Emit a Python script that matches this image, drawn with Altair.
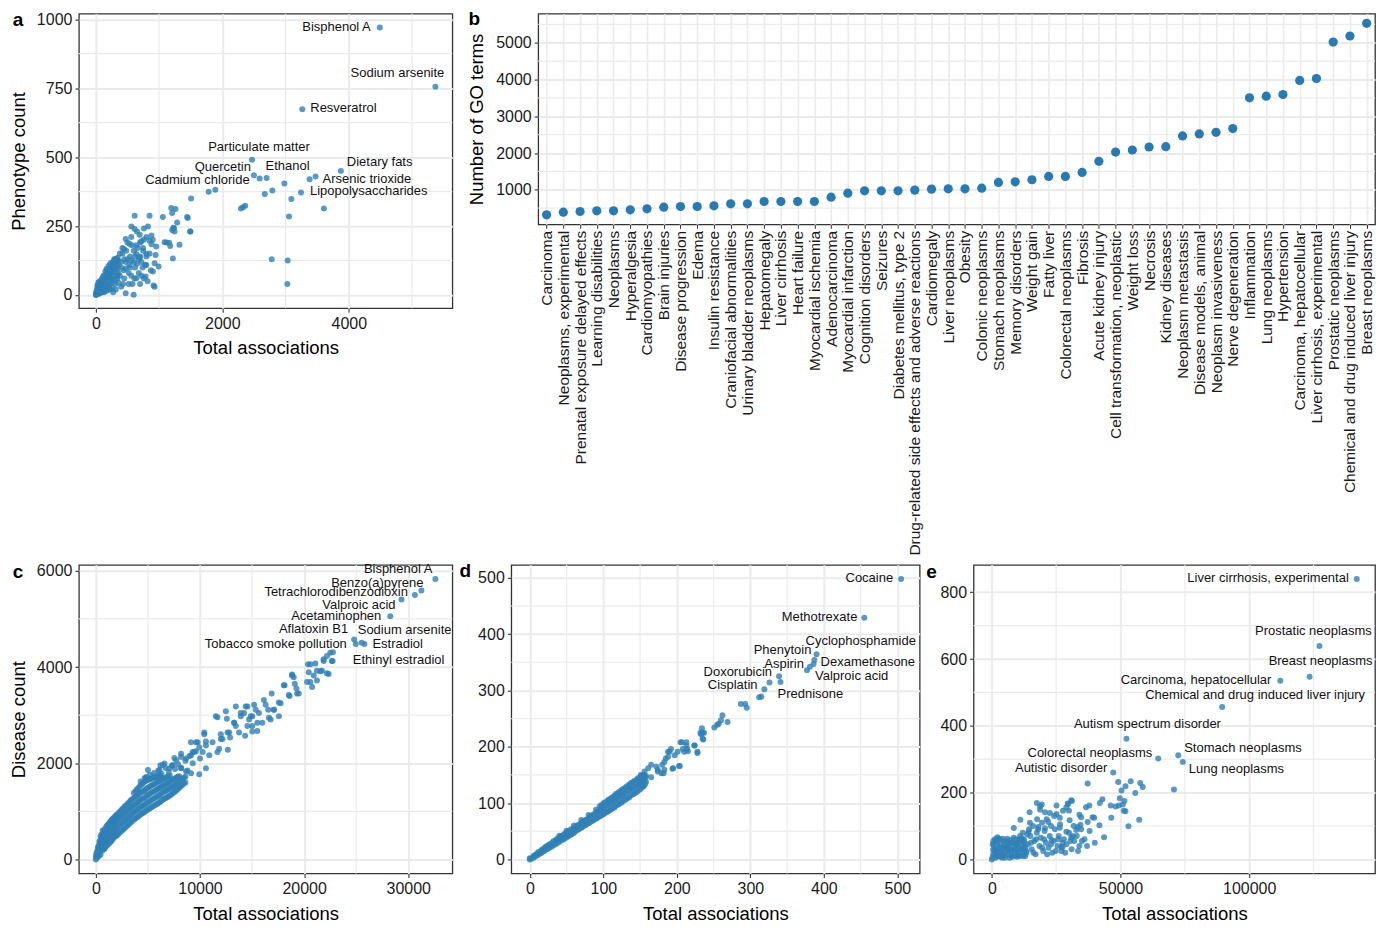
import altair as alt
import pandas as pd

FONT = "Liberation Sans"
PT = "#2f7fb5"
GRID = "#ebebeb"

# ---------------- panel a : chemicals, phenotypes ----------------
a_names = ["Bisphenol A", "Sodium arsenite", "Resveratrol", "Particulate matter", "Quercetin",
           "Ethanol", "Dietary fats", "Arsenic trioxide", "Lipopolysaccharides", "Cadmium chloride"]
a_lab_x = [4490, 5370, 3265, 2470, 2500, 2700, 3875, 3475, 3245, 1785]
a_lab_y = [970, 755, 673, 490, 434, 424, 450, 430, 372, 374]
a_pts = [
    (2590, 422), (3380, 420), (1890, 382), (1507, 350), (2982, 404), (2672, 366), (2792, 379),
    (3092, 348), (3606, 314), (3055, 285), (2782, 130), (3034, 125), (3029, 40), (2294, 314),
    (2362, 324), (2330, 318), (1192, 315), (1260, 312), (1207, 297), (1444, 283), (1454, 279),
    (1491, 230), (1207, 236), (1228, 244), (1286, 263), (1060, 283), (1323, 182), (1160, 189),
    (1119, 190), (1176, 178), (1218, 132), (992, 103), (913, 34), (903, 85), (798, 109), (787, 67),
    (945, 145), (614, 287), (850, 287), (562, 248), (614, 239), (761, 241), (824, 248), (880, 216),
    (850, 197), (880, 184), (693, 218), (719, 195), (745, 170), (472, 203), (535, 185), (446, 167),
    (640, 149), (562, 125), (651, 113), (472, 6), (598, 1), (640, 61), (955, 176), (929, 115),
    (420, 150), (394, 120), (472, 96), (693, 137), (798, 149), (1234, 242), (1244, 230),
    (1496, 230), (1087, 191), (929, 30),
    (380, 150), (400, 100), (420, 170), (450, 60), (470, 120), (500, 190), (520, 80), (540, 140),
    (560, 210), (580, 40), (600, 160), (620, 100), (650, 230), (680, 130), (700, 190), (720, 70),
    (750, 160), (780, 110), (800, 210), (820, 50), (850, 150), (870, 90), (900, 200), (380, 70),
    (430, 40), (480, 160), (530, 110), (570, 180), (610, 60), (660, 170), (700, 140), (740, 100),
    (760, 200), (800, 140), (400, 30), (440, 90), (500, 130), (520, 40), (600, 120), (640, 180),
    (680, 80), (720, 120), (760, 60), (450, 130), (560, 70), (620, 140), (700, 40), (540, 100),
    (0, 0), (5, 3), (10, 8), (20, 5), (30, 15), (40, 10), (50, 25), (60, 5), (70, 35), (80, 20),
    (90, 45), (100, 10), (100, 60), (110, 30), (120, 70), (130, 50), (140, 15), (150, 85), (160, 40),
    (170, 95), (180, 60), (190, 20), (200, 105), (210, 75), (220, 40), (230, 115), (240, 90),
    (250, 55), (260, 25), (270, 120), (280, 100), (290, 70), (300, 130), (310, 40), (320, 110),
    (330, 85), (340, 60), (350, 125), (345, 135), (60, 50), (30, 30), (15, 20),
    (5, 10), (12, 2), (18, 12), (25, 8), (35, 22), (45, 5), (45, 30), (55, 15), (65, 28), (75, 10),
    (75, 45), (85, 30), (95, 55), (105, 20), (115, 45), (125, 65), (135, 35), (145, 60), (155, 25),
    (165, 75), (175, 50), (185, 90), (195, 35), (205, 65), (215, 95), (225, 20), (235, 70),
    (245, 105), (255, 45), (265, 85), (275, 10), (285, 115), (295, 55), (305, 95), (315, 20),
    (325, 125), (335, 70), (345, 100), (355, 45), (360, 110), (355, 80), (330, 130), (310, 120),
    (290, 130), (270, 105), (250, 85), (230, 60), (210, 30), (190, 75), (170, 15), (150, 40),
    (130, 10), (110, 55), (90, 15), (70, 10), (50, 40), (40, 45), (25, 35),
]

# ---------------- panel b : GO terms per disease ----------------
b_cats = ["Carcinoma", "Neoplasms, experimental", "Prenatal exposure delayed effects",
          "Learning disabilities", "Neoplasms", "Hyperalgesia", "Cardiomyopathies", "Brain injuries",
          "Disease progression", "Edema", "Insulin resistance", "Craniofacial abnormalities",
          "Urinary bladder neoplasms", "Hepatomegaly", "Liver cirrhosis", "Heart failure",
          "Myocardial ischemia", "Adenocarcinoma", "Myocardial infarction", "Cognition disorders",
          "Seizures", "Diabetes mellitus, type 2", "Drug-related side effects and adverse reactions",
          "Cardiomegaly", "Liver neoplasms", "Obesity", "Colonic neoplasms", "Stomach neoplasms",
          "Memory disorders", "Weight gain", "Fatty liver", "Colorectal neoplasms", "Fibrosis",
          "Acute kidney injury", "Cell transformation, neoplastic", "Weight loss", "Necrosis",
          "Kidney diseases", "Neoplasm metastasis", "Disease models, animal", "Neoplasm invasiveness",
          "Nerve degeneration", "Inflammation", "Lung neoplasms", "Hypertension",
          "Carcinoma, hepatocellular", "Liver cirrhosis, experimental", "Prostatic neoplasms",
          "Chemical and drug induced liver injury", "Breast neoplasms"]
b_vals = [318, 391, 409, 427, 427, 455, 482, 527, 545, 545, 564, 618, 618, 682, 682, 682, 682,
          800, 909, 973, 973, 973, 991, 1018, 1027, 1027, 1045, 1200, 1218, 1273, 1364, 1364, 1473,
          1773, 2027, 2082, 2164, 2173, 2464, 2518, 2564, 2664, 3500, 3545, 3591, 3973, 4027, 5018,
          5182, 5527]

# ---------------- panel c : chemicals, diseases ----------------
c_names = ["Bisphenol A", "Benzo(a)pyrene", "Tetrachlorodibenzodioxin", "Valproic acid",
           "Acetaminophen", "Aflatoxin B1", "Sodium arsenite", "Tobacco smoke pollution",
           "Estradiol", "Ethinyl estradiol"]
c_lab_x = [32600, 31260, 30630, 29350, 28270, 24800, 25530, 24960, 25790, 22760]
c_lab_y = [5830, 5590, 5500, 5405, 5055, 4575, 4506, 4480, 4480, 4310]
c_pts = [
    (21870, 4127), (22190, 4228), (22730, 4127), (20370, 4060), (21080, 4074), (21710, 3924),
    (20440, 3891), (20920, 3823), (21230, 3721), (20600, 3689), (20760, 3587), (22190, 3871),
    (21560, 3912), (18840, 3843), (19000, 3790), (18120, 3620), (18600, 3397), (19100, 3654),
    (19260, 3553), (19480, 3451), (16880, 3451), (17740, 3248), (17570, 2978), (16140, 3315),
    (16550, 3112), (17100, 3112), (15190, 3214), (15350, 3112), (15660, 3045), (15020, 2978),
    (14390, 3180), (14230, 3045), (14710, 2909), (13920, 2978), (14550, 2775), (13440, 3180),
    (13280, 2842), (13440, 2775), (12800, 2639), (13750, 2639), (15500, 2673), (15020, 2775),
    (15980, 2842), (16620, 2944), (14330, 2572), (15020, 2659), (12480, 3079), (12580, 2923),
    (11680, 2957), (12000, 2605), (12160, 2503), (12670, 2280), (12890, 2537), (10410, 2605),
    (10570, 2450), (11200, 2436), (11680, 2233), (11840, 2300), (9620, 2436), (9930, 2334),
    (9460, 2233), (10250, 2233), (10890, 2165), (10570, 1894), (9140, 2165), (8660, 2097),
    (8180, 2131), (7710, 2064), (7380, 1963), (6430, 1963), (7070, 1894), (8180, 1894),
    (8660, 1827), (9140, 1793), (9930, 1772), (6110, 1861), (4680, 1691), (4840, 1712),
    (6590, 1996), (7540, 2111), (8180, 2199), (9290, 2233), (9130, 2436), (9770, 2436),
    (10410, 2639), (10570, 2369), (11520, 2978), (12640, 2639), (12000, 2503), (13270, 2842),
    (14550, 3180), (13910, 3045), (14870, 2978), (15500, 2842), (16300, 3214), (16780, 2909),
    (17570, 3262), (17090, 3112), (18050, 3620), (18530, 3417), (18840, 3823), (19320, 3451),
    (20280, 3688), (20600, 4060), (21230, 3924), (21870, 4162), (22350, 3857), (22660, 4128),
    (22510, 4297),
    (4300, 1620), (4800, 1700), (5200, 1760), (5600, 1800), (6000, 1850), (6300, 1780),
    (6700, 1900), (7000, 1820), (7300, 1950), (7600, 1880), (7900, 1980), (8200, 1900),
    (8600, 2050), (8800, 1850), (9000, 2150), (9300, 2000), (9600, 2250), (10000, 2100),
    (5000, 1860), (6200, 1960),
    (0, 0), (0, 60), (50, 120), (100, 40), (150, 180), (200, 90), (250, 240), (300, 140), (300, 300),
    (400, 200), (400, 360), (450, 100), (500, 270), (500, 420), (600, 180), (600, 340), (600, 470),
    (700, 250), (700, 400), (700, 540), (800, 210), (800, 330), (800, 470), (800, 600),
    (1000, 280), (1000, 420), (1000, 560), (1000, 680), (1200, 320), (1200, 460), (1200, 600),
    (1200, 730), (1400, 370), (1400, 510), (1400, 650), (1400, 790), (1600, 420), (1600, 560),
    (1600, 700), (1600, 840), (1800, 470), (1800, 610), (1800, 750), (1800, 880),
    (2000, 500), (2000, 650), (2000, 800), (2000, 930), (2300, 560), (2300, 710), (2300, 860),
    (2300, 990), (2600, 620), (2600, 770), (2600, 920), (2600, 1060), (2900, 680), (2900, 830),
    (2900, 980), (2900, 1120), (3200, 740), (3200, 890), (3200, 1040), (3200, 1190), (3500, 800),
    (3500, 950), (3500, 1100), (3500, 1250), (3800, 850), (3800, 1000), (3800, 1150), (3800, 1300),
    (3800, 1420), (4100, 900), (4100, 1050), (4100, 1200), (4100, 1350), (4100, 1490), (4400, 950),
    (4400, 1100), (4400, 1250), (4400, 1400), (4400, 1560), (4700, 990), (4700, 1140),
    (4700, 1290), (4700, 1440), (4700, 1620), (5000, 1040), (5000, 1190), (5000, 1340),
    (5000, 1490), (5000, 1650), (5300, 1080), (5300, 1230), (5300, 1380), (5300, 1530),
    (5300, 1680), (5600, 1120), (5600, 1270), (5600, 1420), (5600, 1570), (5600, 1710),
    (5900, 1160), (5900, 1310), (5900, 1460), (5900, 1610), (5900, 1730), (6200, 1200),
    (6200, 1350), (6200, 1500), (6200, 1640), (6200, 1740), (6500, 1250), (6500, 1400),
    (6500, 1540), (6500, 1680), (6800, 1290), (6800, 1440), (6800, 1580), (6800, 1710),
    (7100, 1330), (7100, 1480), (7100, 1620), (7100, 1740), (7400, 1380), (7400, 1520),
    (7400, 1660), (7700, 1430), (7700, 1570), (7700, 1700), (8000, 1490), (8000, 1620),
    (8000, 1730), (8300, 1550), (8300, 1680), (8600, 1600), (8600, 1720),
    (100, 150), (200, 260), (250, 60), (350, 220), (350, 380), (450, 300), (450, 480), (550, 230),
    (550, 380), (550, 520), (650, 300), (650, 460), (650, 600), (750, 230), (750, 370), (750, 520),
    (900, 250), (900, 380), (900, 510), (900, 640), (1100, 300), (1100, 440), (1100, 580),
    (1100, 710), (1300, 340), (1300, 490), (1300, 630), (1300, 760), (1500, 390), (1500, 540),
    (1500, 680), (1500, 820), (1700, 450), (1700, 590), (1700, 730), (1700, 860), (1900, 490),
    (1900, 630), (1900, 780), (1900, 910), (2150, 530), (2150, 690), (2150, 840), (2150, 960),
    (2450, 590), (2450, 740), (2450, 890), (2450, 1030), (2750, 650), (2750, 800), (2750, 950),
    (2750, 1100), (3050, 710), (3050, 860), (3050, 1010), (3050, 1160), (3350, 770), (3350, 920),
    (3350, 1070), (3350, 1230), (3650, 830), (3650, 980), (3650, 1130), (3650, 1280), (3650, 1380),
    (3950, 880), (3950, 1030), (3950, 1180), (3950, 1330), (3950, 1460), (4250, 930), (4250, 1080),
    (4250, 1230), (4250, 1380), (4250, 1530), (4550, 970), (4550, 1120), (4550, 1270), (4550, 1420),
    (4550, 1590), (4850, 1020), (4850, 1170), (4850, 1320), (4850, 1470), (4850, 1640),
    (5150, 1060), (5150, 1210), (5150, 1360), (5150, 1510), (5150, 1670), (5450, 1100),
    (5450, 1250), (5450, 1400), (5450, 1550), (5450, 1700), (5750, 1140), (5750, 1290),
    (5750, 1440), (5750, 1590), (5750, 1720), (6050, 1180), (6050, 1330), (6050, 1480),
    (6050, 1620), (6050, 1740), (6350, 1230), (6350, 1380), (6350, 1520), (6350, 1660),
    (6650, 1270), (6650, 1420), (6650, 1560), (6650, 1700), (6950, 1310), (6950, 1460),
    (6950, 1600), (6950, 1730), (7250, 1350), (7250, 1500), (7250, 1640), (7550, 1400),
    (7550, 1540), (7550, 1680), (7850, 1460), (7850, 1590), (7850, 1720), (8150, 1520),
    (8150, 1650), (8450, 1580), (8450, 1700),
]

# ---------------- panel d : chemicals vs GO ----------------
d_names = ["Cocaine", "Methotrexate", "Cyclophosphamide", "Phenytoin", "Dexamethasone", "Aspirin",
           "Valproic acid", "Doxorubicin", "Cisplatin", "Prednisone"]
d_lab_x = [505, 455, 390, 387, 386, 381, 377, 339, 326, 341]
d_lab_y = [498, 429, 364, 354, 347, 342, 336, 325, 314, 315]
d_pts = [
    (319, 302), (312, 288), (315, 289), (287, 276), (293, 276), (295, 269), (262, 256), (260, 247),
    (255, 239), (251, 234), (257, 241), (269, 244), (234, 233), (235, 225), (233, 222), (236, 213),
    (224, 202), (228, 189), (213, 202), (215, 192), (205, 208), (208, 196), (201, 191), (203, 166),
    (194, 161), (188, 191), (192, 196), (185, 179), (182, 153), (180, 168), (174, 156), (165, 146),
    (161, 162), (156, 156), (151, 150), (150, 139), (154, 130), (190, 191), (195, 162), (204, 166),
    (183, 173), (210, 191), (214, 196), (228, 191), (224, 202), (207, 208), (213, 208), (172, 165),
    (165, 168), (174, 159), (179, 153), (154, 139), (156, 150), (183, 159), (235, 214), (232, 225),
    (237, 225), (197, 185), (188, 182),
    (0, 0), (0, 2), (5, 3), (5, 6), (10, 7), (10, 11), (15, 11), (15, 15), (20, 15), (20, 20),
    (25, 19), (25, 25), (30, 23), (30, 29), (35, 27), (35, 34), (40, 31), (40, 38), (40, 42),
    (45, 35), (45, 43), (50, 39), (50, 47), (50, 51), (55, 43), (55, 52), (60, 47), (60, 55),
    (60, 60), (65, 52), (65, 60), (70, 56), (70, 64), (70, 70), (75, 60), (75, 69), (80, 64),
    (80, 73), (80, 79), (85, 68), (85, 78), (90, 72), (90, 82), (90, 88), (95, 76), (95, 86),
    (95, 94), (100, 80), (100, 90), (100, 99), (105, 84), (105, 95), (105, 103), (110, 88),
    (110, 99), (110, 108), (115, 92), (115, 104), (115, 113), (120, 97), (120, 108), (120, 118),
    (125, 101), (125, 113), (125, 123), (130, 106), (130, 117), (130, 127), (135, 110), (135, 122),
    (135, 132), (140, 115), (140, 126), (140, 137), (145, 119), (145, 131), (145, 141), (150, 124),
    (150, 135), (150, 146), (155, 130), (155, 140), (155, 150), (158, 138), (158, 148),
    (2, 1), (7, 5), (7, 8), (12, 9), (12, 13), (17, 13), (17, 18), (22, 18), (22, 23), (27, 21),
    (27, 27), (32, 25), (32, 32), (37, 29), (37, 36), (42, 34), (42, 40), (47, 37), (47, 45),
    (52, 41), (52, 49), (57, 45), (57, 54), (62, 50), (62, 58), (67, 54), (67, 62), (72, 58),
    (72, 67), (77, 62), (77, 71), (82, 66), (82, 76), (87, 70), (87, 80), (92, 74), (92, 85),
    (97, 78), (97, 89), (97, 96), (102, 82), (102, 93), (102, 101), (107, 86), (107, 97),
    (107, 106), (112, 90), (112, 101), (112, 110), (117, 95), (117, 106), (117, 116), (122, 99),
    (122, 111), (122, 120), (127, 104), (127, 115), (127, 125), (132, 108), (132, 120), (132, 130),
    (137, 113), (137, 124), (137, 135), (142, 117), (142, 129), (142, 139), (147, 122), (147, 133),
    (147, 144), (152, 127), (152, 138), (152, 148), (157, 134), (157, 145),
]

# ---------------- panel e : diseases vs GO ----------------
e_names = ["Liver cirrhosis, experimental", "Prostatic neoplasms", "Breast neoplasms",
           "Carcinoma, hepatocellular", "Chemical and drug induced liver injury",
           "Autism spectrum disorder", "Colorectal neoplasms", "Stomach neoplasms",
           "Lung neoplasms", "Autistic disorder"]
e_lab_x = [141800, 127300, 123460, 112100, 89500, 52300, 64660, 72430, 74220, 47180]
e_lab_y = [840, 639, 547, 535, 456, 361, 302, 312, 292, 260]
e_pts = [
    (70780, 209), (37230, 227), (49090, 232), (50390, 206), (51920, 219), (53950, 234),
    (55740, 199), (57660, 229), (58650, 217), (42970, 180), (41960, 169), (46180, 161),
    (49350, 161), (50890, 164), (49740, 183), (51920, 144), (46410, 125), (53070, 99),
    (57280, 119), (41820, 102), (43620, 66), (31110, 175), (29590, 166), (28960, 156),
    (25140, 161), (27660, 146), (25140, 136), (20660, 141), (18750, 159), (17480, 169),
    (14650, 141), (11100, 119), (8540, 94), (2170, 66), (34700, 126), (33400, 97), (36600, 156),
    (37880, 161), (39140, 126), (30870, 66), (27050, 37), (34700, 90), (19390, 164), (29590, 167),
    (30870, 177), (18750, 149), (22570, 139), (26400, 125), (29970, 146), (34050, 134),
    (37230, 112), (34440, 104), (32790, 88), (30230, 117), (21930, 112), (20660, 93), (18100, 97),
    (14280, 83), (26400, 95), (28960, 83), (27430, 36), (23220, 58), (39790, 125), (48090, 158),
    (51540, 175), (51270, 146),
    (13500, 20), (14000, 45), (15000, 70), (15500, 30), (16500, 55), (17000, 15), (17500, 80),
    (18500, 40), (19000, 65), (20000, 25), (20500, 85), (21000, 50), (22000, 35), (22500, 70),
    (23500, 20), (24000, 55), (24500, 90), (25500, 40), (26000, 70), (27000, 25), (28000, 60),
    (29000, 45), (30000, 80), (31000, 30), (32000, 55), (33000, 70), (34000, 40), (36000, 60),
    (38000, 85), (40000, 50), (16000, 100), (19500, 110), (23000, 100), (26500, 105), (12500, 60),
    (14500, 90), (13000, 10), (13800, 75), (15200, 50), (16200, 20), (17200, 60), (18000, 90),
    (19500, 35), (20300, 60), (21500, 15), (23000, 45), (24800, 25), (25800, 60), (27500, 50),
    (28500, 20), (30500, 55), (31500, 70), (33500, 25), (35000, 55), (12000, 80), (11000, 70),
    (14800, 110), (21300, 120), (24200, 130), (17600, 120), (31800, 100), (37000, 40),
    (0, 0), (500, 15), (1000, 30), (1500, 5), (2000, 45), (2500, 20), (3000, 60), (3500, 8),
    (4000, 35), (4500, 55), (5000, 15), (5500, 40), (6000, 62), (6500, 25), (7000, 5), (7500, 50),
    (8000, 30), (8500, 65), (9000, 12), (9500, 45), (10000, 25), (10500, 60), (11000, 10),
    (11500, 40), (12000, 55), (12500, 20), (13000, 35), (300, 45), (2000, 10), (4000, 5),
    (6000, 40), (8000, 8), (10000, 50), (1200, 60), (3500, 25),
    (250, 5), (750, 40), (1250, 20), (1750, 55), (2250, 30), (2750, 10), (3250, 45), (3750, 20),
    (4250, 62), (4750, 30), (5250, 5), (5750, 55), (6250, 15), (6750, 45), (7250, 30), (7750, 10),
    (8250, 50), (8750, 25), (9250, 60), (9750, 8), (10250, 40), (10750, 20), (11250, 55),
    (11750, 30), (12250, 10), (12750, 50), (13250, 25), (600, 55), (1800, 25), (3200, 35),
    (4600, 10), (5800, 28), (7200, 58), (8800, 40), (10200, 12), (11600, 62), (12800, 40),
    (500, 28), (2600, 62), (5000, 45), (7600, 20), (9800, 30), (12000, 30),
]


def axis(values, title, title_pad):
    kw = dict(values=values, format="d", grid=True, gridColor=GRID, gridWidth=2, tickSize=4,
              tickColor="#333333", tickWidth=1.1, labelPadding=3, domain=False,
              labelFontSize=16, labelColor="#1a1a1a", labelFont=FONT, titleFont=FONT,
              titleFontSize=18.5, titleColor="#000000", titleFontWeight="normal",
              titlePadding=title_pad, title=title)
    return alt.Axis(**kw)


def scatter_panel(names, lx, ly, pts, xdom, ydom, xt, yt, xm, ym, w, h, ytitle, letter,
                  letter_xy, styles, xpad):
    xs = alt.Scale(domain=xdom, nice=False, zero=False)
    ys = alt.Scale(domain=ydom, nice=False, zero=False)
    xt_title = "Total associations"
    xax = axis(xt, xt_title, xpad)
    yax = axis(yt, ytitle, 8)
    other = pd.DataFrame(pts, columns=["x", "y"])
    labd = pd.DataFrame({"name": names, "x": lx, "y": ly})
    allp = pd.concat([other, labd[["x", "y"]]], ignore_index=True)
    X = lambda: alt.X("x:Q", scale=xs, axis=xax, title=xt_title)
    Y = lambda: alt.Y("y:Q", scale=ys, axis=yax, title=ytitle)
    layers = [
        alt.Chart(pd.DataFrame({"x": xm})).mark_rule(color=GRID, strokeWidth=1.2).encode(x=X()),
        alt.Chart(pd.DataFrame({"y": ym})).mark_rule(color=GRID, strokeWidth=1.2).encode(y=Y()),
        alt.Chart(allp).mark_circle(size=36, color=PT, opacity=0.8, clip=True).encode(
            x=X(), y=Y()),
    ]
    for nm in names:
        al, dx, dy = styles[nm]
        layers.append(
            alt.Chart(labd).transform_filter(alt.FieldEqualPredicate(field="name", equal=nm))
            .mark_text(align=al, dx=dx, dy=dy, baseline="middle", fontSize=13, font=FONT,
                       color="#111111")
            .encode(x=X(), y=Y(), text="name:N"))
    layers.append(
        alt.Chart(pd.DataFrame({"t": [letter]})).mark_text(
            fontSize=19, fontWeight="bold", font=FONT, align="center", baseline="middle",
            color="#000000").encode(x=alt.value(letter_xy[0]), y=alt.value(letter_xy[1]),
                                    text="t:N"))
    return alt.layer(*layers).properties(width=w, height=h)


a_styles = {
    "Bisphenol A": ("right", -9, 0), "Sodium arsenite": ("center", -38, -14),
    "Resveratrol": ("left", 8, -1), "Particulate matter": ("center", 7, -13),
    "Quercetin": ("right", -3, -8), "Ethanol": ("left", -1, -12),
    "Cadmium chloride": ("right", 41, -12), "Dietary fats": ("left", 6, -9),
    "Arsenic trioxide": ("left", 7, 3), "Lipopolysaccharides": ("left", 9, -1),
}
c_styles = {
    "Bisphenol A": ("right", -3, -10), "Benzo(a)pyrene": ("right", 2, -8),
    "Tetrachlorodibenzodioxin": ("right", -7, -3), "Valproic acid": ("right", -6, 6),
    "Acetaminophen": ("right", -9, 0), "Aflatoxin B1": ("right", -6, -10),
    "Sodium arsenite": ("left", -4, -13), "Tobacco smoke pollution": ("right", -9, 0),
    "Estradiol": ("left", 8, 0), "Ethinyl estradiol": ("left", 20, 8),
}
d_styles = {
    "Cocaine": ("right", -8, -1), "Methotrexate": ("right", -7, -1),
    "Cyclophosphamide": ("left", -11, -13), "Phenytoin": ("right", -3, -10),
    "Aspirin": ("right", -6, -3), "Dexamethasone": ("left", 7, -2),
    "Valproic acid": ("left", 8, 6), "Doxorubicin": ("right", -7, -4),
    "Cisplatin": ("right", -12, 2), "Prednisone": ("left", -3, 12),
}
e_styles = {
    "Liver cirrhosis, experimental": ("right", -8, -1), "Prostatic neoplasms": ("center", -6, -15),
    "Breast neoplasms": ("center", 11, -16), "Carcinoma, hepatocellular": ("right", -9, -1),
    "Chemical and drug induced liver injury": ("center", 33, -12),
    "Autism spectrum disorder": ("center", 21, -15), "Colorectal neoplasms": ("right", -6, -6),
    "Stomach neoplasms": ("left", 6, -7), "Lung neoplasms": ("left", 6, 7),
    "Autistic disorder": ("right", -6, -5),
}

H_BOT = 309
pa = scatter_panel(a_names, a_lab_x, a_lab_y, a_pts, [-268, 5638], [-48, 1020],
                   [0, 2000, 4000], [0, 250, 500, 750, 1000], [1000, 3000, 5000],
                   [125, 375, 625, 875], 374, 295, "Phenotype count", "a", (-61, 6), a_styles, 7)
pc = scatter_panel(c_names, c_lab_x, c_lab_y, c_pts, [-1630, 34230], [-290, 6125],
                   [0, 10000, 20000, 30000], [0, 2000, 4000, 6000], [5000, 15000, 25000],
                   [1000, 3000, 5000], 374, H_BOT, "Disease count", "c", (-61, 7), c_styles, 8)
pd_ = scatter_panel(d_names, d_lab_x, d_lab_y, d_pts, [-25.25, 530.25], [-24.9, 522.9],
                    [0, 100, 200, 300, 400, 500], [0, 100, 200, 300, 400, 500],
                    [50, 150, 250, 350, 450], [50, 150, 250, 350, 450], 409, H_BOT, None, "d",
                    (-46, 6), d_styles, 8)
pe = scatter_panel(e_names, e_lab_x, e_lab_y, e_pts, [-7090, 148890], [-42, 882],
                   [0, 50000, 100000], [0, 200, 400, 600, 800], [25000, 75000, 125000],
                   [100, 300, 500, 700], 402, H_BOT, None, "e", (-42, 7), e_styles, 8)

# panel b
bdf = pd.DataFrame({"cat": b_cats, "n": b_vals})
bys = alt.Scale(domain=[60, 5790], nice=False, zero=False)
bxs = alt.Scale(type="point", padding=0.5)
b_minor = [500, 1500, 2500, 3500, 4500, 5500]
b_yax = axis([1000, 2000, 3000, 4000, 5000], "Number of GO terms", 9)
BY = lambda: alt.Y("n:Q", scale=bys, axis=b_yax, title="Number of GO terms")
pb = alt.layer(
    alt.Chart(pd.DataFrame({"n": b_minor})).mark_rule(color=GRID, strokeWidth=1.2).encode(y=BY()),
    alt.Chart(bdf).mark_circle(size=85, color="#2a7ab2", opacity=1).encode(
        x=alt.X("cat:N", sort=b_cats, scale=bxs,
                axis=alt.Axis(labelAngle=270, labelFontSize=15.5, labelFont=FONT,
                              labelColor="#1a1a1a", grid=True, gridColor=GRID, gridWidth=1.6,
                              tickSize=4, tickColor="#333333", labelPadding=2, domain=False,
                              title=None, labelLimit=0)),
        y=BY()),
    alt.Chart(pd.DataFrame({"t": ["b"]})).mark_text(
        fontSize=19, fontWeight="bold", font=FONT, align="center", baseline="middle",
        color="#000000").encode(x=alt.value(-64), y=alt.value(5), text="t:N"),
).properties(width=838, height=211)

top = alt.hconcat(pa, pb, spacing=86, bounds="flush")
bottom = alt.hconcat(pc, alt.hconcat(pd_, pe, spacing=54, bounds="flush"), spacing=59,
                     bounds="flush")
chart = alt.vconcat(top, bottom, spacing=552, bounds="flush").properties(
    padding={"left": 0, "top": 0, "right": 0, "bottom": 0}, background="white"
).configure_view(stroke="#333333", strokeWidth=1.3)

chart.save("out.html", embed_options={"renderer": "svg", "actions": False})
